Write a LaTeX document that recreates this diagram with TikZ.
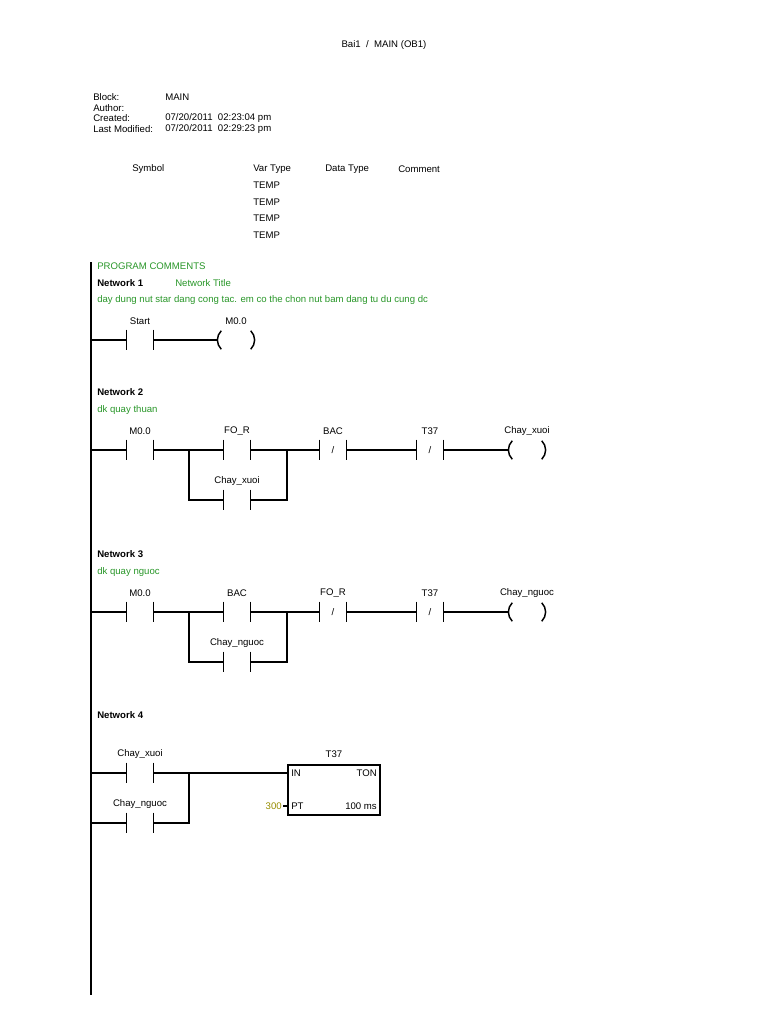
\documentclass[tikz,border=0pt]{standalone}
\usepackage{fontspec}
\setmainfont{Liberation Sans}
\definecolor{grn}{RGB}{40,150,40}
\definecolor{olv}{RGB}{150,140,0}
\begin{document}
\begin{tikzpicture}[x=0.75pt,y=-0.75pt,font=\fontsize{7.2}{8.5}\selectfont,
  txt/.style={anchor=west,inner sep=0},
  gtxt/.style={anchor=west,inner sep=0,text=grn},
  lbl/.style={inner sep=0},
  ct/.style={minimum width=19.5pt,minimum height=15pt,inner sep=0,draw=none},
  co/.style={minimum width=27.75pt,minimum height=13.5pt,inner sep=0,draw=none},
  bar/.style={line width=1.1pt},
  w/.style={line width=0.9pt}]
\useasboundingbox (0,0) rectangle (768,1024);
\newcommand\ct[5]{\node[ct] (#1) at (#2,#3) {#5};
 \draw[bar] (#1.north west)--(#1.south west) (#1.north east)--(#1.south east);
 \node[lbl] at (#2,#3-19) {#4};}
\newcommand\coil[4]{\node[co] (#1) at (#2,#3) {};
 \draw[bar] ([xshift=3pt]#1.north west) to[bend right=45] ([xshift=3pt]#1.south west);
 \draw[bar] ([xshift=-3pt]#1.north east) to[bend left=45] ([xshift=-3pt]#1.south east);
 \node[lbl] at (#2,#3-19) {#4};}
% header
\node[lbl] at (384,45) {Bai1 \ / \ MAIN (OB1)};
\node[txt] at (93,97) {Block:}; \node[txt] at (165,97) {MAIN};
\node[txt] at (93,108) {Author:};
\node[txt] at (93,118) {Created:}; \node[txt] at (165,118) {07/20/2011 \ 02:23:04 pm};
\node[txt] at (93,129) {Last Modified:}; \node[txt] at (165,129) {07/20/2011 \ 02:29:23 pm};
\node[txt] at (132,169) {Symbol}; \node[txt] at (253,169) {Var Type};
\node[txt] at (325,169) {Data Type}; \node[txt] at (398,169) {Comment};
\foreach \y in {185,202,218,235} \node[txt] at (253,\y) {TEMP};
% rail
\coordinate (rt) at (91,262); \coordinate (rb) at (91,995);
\draw[line width=1.6pt] (rt)--(rb);
\node[gtxt] at (97,266) {PROGRAM COMMENTS};
\node[txt] at (97,283) {\bfseries Network 1}; \node[gtxt] at (175,283) {Network Title};
\node[gtxt] at (97,300) {day dung nut star dang cong tac. em co the chon nut bam dang tu du cung dc};
% N1
\coordinate (r1) at (91,340);
\ct{s}{140}{340}{Start}{}
\coil{m}{236}{340}{M0.0}
\draw[w] (r1)--(s.west) (s.east)--(m.west);
% N2
\node[txt] at (97,392) {\bfseries Network 2}; \node[gtxt] at (97,410) {dk quay thuan};
\coordinate (r2) at (91,450);
\ct{a1}{140}{450}{M0.0}{}
\ct{a2}{237}{450}{FO\_R}{}
\ct{a3}{237}{500}{Chay\_xuoi}{}
\ct{a4}{333}{450}{BAC}{/}
\ct{a5}{430}{450}{T37}{/}
\coil{a6}{527}{450}{Chay\_xuoi}
\coordinate (b1) at (189,450); \coordinate (b2) at (287,450);
\draw[w] (r2)--(a1.west) (a1.east)--(a2.west) (a2.east)--(a4.west) (a4.east)--(a5.west) (a5.east)--(a6.west);
\draw[w] (b1)|-(a3.west) (a3.east)-|(b2);
% N3
\node[txt] at (97,554) {\bfseries Network 3}; \node[gtxt] at (97,572) {dk quay nguoc};
\coordinate (r3) at (91,612);
\ct{c1}{140}{612}{M0.0}{}
\ct{c2}{237}{612}{BAC}{}
\ct{c3}{237}{662}{Chay\_nguoc}{}
\ct{c4}{333}{612}{FO\_R}{/}
\ct{c5}{430}{612}{T37}{/}
\coil{c6}{527}{612}{Chay\_nguoc}
\coordinate (d1) at (189,612); \coordinate (d2) at (287,612);
\draw[w] (r3)--(c1.west) (c1.east)--(c2.west) (c2.east)--(c4.west) (c4.east)--(c5.west) (c5.east)--(c6.west);
\draw[w] (d1)|-(c3.west) (c3.east)-|(d2);
% N4
\node[txt] at (97,715) {\bfseries Network 4};
\coordinate (r4) at (91,773); \coordinate (r5) at (91,823);
\ct{e1}{140}{773}{Chay\_xuoi}{}
\ct{e2}{140}{823}{Chay\_nguoc}{}
\node[draw,line width=0.9pt,minimum width=69pt,minimum height=37.5pt,inner sep=0] (tm) at (334,790) {};
\node[lbl] at (334,754) {T37};
\coordinate (in) at (288,773); \coordinate (pt) at (288,806); \coordinate (ptl) at (283,806);
\node[txt] at (291,773) {IN}; \node[txt] at (291,806) {PT};
\node[lbl,anchor=east] at (377,773) {TON}; \node[lbl,anchor=east] at (377,806) {100 ms};
\node[lbl,anchor=east,text=olv] (v) at (282,806) {300};
\coordinate (f1) at (189,773);
\draw[w] (r4)--(e1.west) (e1.east)--(in);
\draw[w] (r5)--(e2.west) (e2.east)-|(f1);
\draw[w] (ptl)--(pt);
\end{tikzpicture}
\end{document}
